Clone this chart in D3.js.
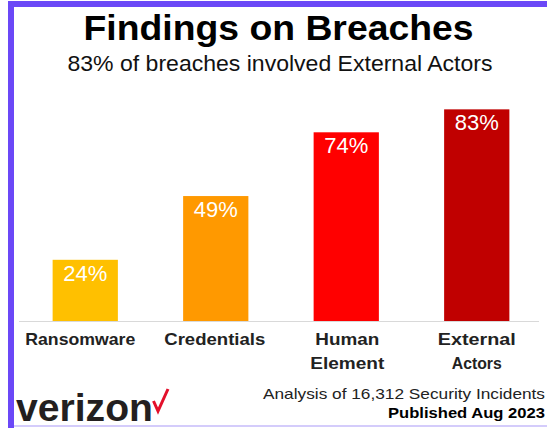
<!DOCTYPE html>
<html>
<head>
<meta charset="utf-8">
<script src="https://cdn.jsdelivr.net/npm/d3@7"></script>
<style>
  html, body { margin: 0; padding: 0; background: #fff; }
  svg { display: block; font-family: "Liberation Sans", Arial, Helvetica, sans-serif; }
</style>
</head>
<body>
<svg id="chart" width="547" height="429"></svg>
<script>
// ---- data ----
const categories = ["Ransomware", "Credentials", "Human Element", "External Actors"];
const labelLines = [["Ransomware"], ["Credentials"], ["Human", "Element"], ["External", "Actors"]];
const values = [24, 49, 74, 83];
const valueLabels = ["24%", "49%", "74%", "83%"];
const barColors = ["#FFC000", "#FF9900", "#FF0000", "#C00000"];
const titleText = "Findings on Breaches";
const subtitleText = "83% of breaches involved External Actors";
const footerLines = ["Analysis of 16,312 Security Incidents", "Published Aug 2023"];
const brand = "verizon";

const svg = d3.select("#chart");
const W = 547, H = 429;

// frame
svg.append("rect").attr("x", 0).attr("y", 0).attr("width", W).attr("height", H).attr("fill", "#fff");
svg.append("rect").attr("x", 8).attr("y", 1).attr("width", W - 8).attr("height", 6).attr("fill", "#6b48f7");
svg.append("rect").attr("x", 8).attr("y", 1).attr("width", 6).attr("height", 427).attr("fill", "#6b48f7");
svg.append("rect").attr("x", 14).attr("y", 425).attr("width", W - 14).attr("height", 2).attr("fill", "#d4ccfb");

// scales
const x = d3.scaleBand().domain(categories).range([20, 542]).paddingInner(0.5).paddingOuter(0.25);
const y = d3.scaleLinear().domain([0, 100]).range([321, 66]);

// titles
svg.append("text").attr("x", 278.5).attr("y", 39.5).attr("text-anchor", "middle")
  .attr("font-size", 35).attr("font-weight", "bold").attr("fill", "#000")
  .attr("textLength", 390).attr("lengthAdjust", "spacingAndGlyphs").text(titleText);
svg.append("text").attr("x", 280).attr("y", 71).attr("text-anchor", "middle")
  .attr("font-size", 21.5).attr("fill", "#111")
  .attr("textLength", 425).attr("lengthAdjust", "spacingAndGlyphs").text(subtitleText);

// baseline axis
svg.append("line").attr("x1", 19).attr("x2", 539).attr("y1", y(0) + 0.5).attr("y2", y(0) + 0.5)
  .attr("stroke", "#d9d9d9").attr("stroke-width", 1);

// bars
svg.selectAll("rect.bar").data(values).join("rect").attr("class", "bar")
  .attr("x", (d, i) => x(categories[i]))
  .attr("width", x.bandwidth())
  .attr("y", d => y(d))
  .attr("height", d => y(0) - y(d))
  .attr("fill", (d, i) => barColors[i]);

// value labels
svg.selectAll("text.val").data(values).join("text").attr("class", "val")
  .attr("x", (d, i) => x(categories[i]) + x.bandwidth() / 2)
  .attr("y", d => y(d) + 21)
  .attr("text-anchor", "middle").attr("font-size", 22).attr("fill", "#fff")
  .text((d, i) => valueLabels[i]);

// category labels
const lineW = {"Ransomware": 110, "Credentials": 101, "Human": 64, "Element": 74, "External": 78, "Actors": 50};
const lineDx = [-5, -1, 1, 0];
labelLines.forEach((lines, i) => {
  const cx = x(categories[i]) + x.bandwidth() / 2 + lineDx[i];
  lines.forEach((t, j) => {
    svg.append("text").attr("x", cx).attr("y", 345 + j * 24)
      .attr("text-anchor", "middle").attr("font-size", 16.5).attr("font-weight", "bold").attr("fill", "#222")
      .attr("textLength", lineW[t]).attr("lengthAdjust", "spacingAndGlyphs").text(t);
  });
});

// footer
svg.append("text").attr("x", 545).attr("y", 399).attr("text-anchor", "end")
  .attr("font-size", 15).attr("fill", "#222")
  .attr("textLength", 282).attr("lengthAdjust", "spacingAndGlyphs").text(footerLines[0]);
svg.append("text").attr("x", 545).attr("y", 418).attr("text-anchor", "end")
  .attr("font-size", 15).attr("font-weight", "bold").attr("fill", "#000")
  .attr("textLength", 157).attr("lengthAdjust", "spacingAndGlyphs").text(footerLines[1]);

// verizon logo
svg.append("text").attr("x", 16).attr("y", 421)
  .attr("font-size", 38).attr("font-weight", "bold").attr("fill", "#231f20")
  .attr("textLength", 137).attr("lengthAdjust", "spacingAndGlyphs").text(brand);
svg.append("path").attr("d", "M153.5,401 L158,411 L168,389")
  .attr("fill", "none").attr("stroke", "#e3102b").attr("stroke-width", 3)
  .attr("stroke-linejoin", "miter").attr("stroke-linecap", "butt");
</script>
</body>
</html>
